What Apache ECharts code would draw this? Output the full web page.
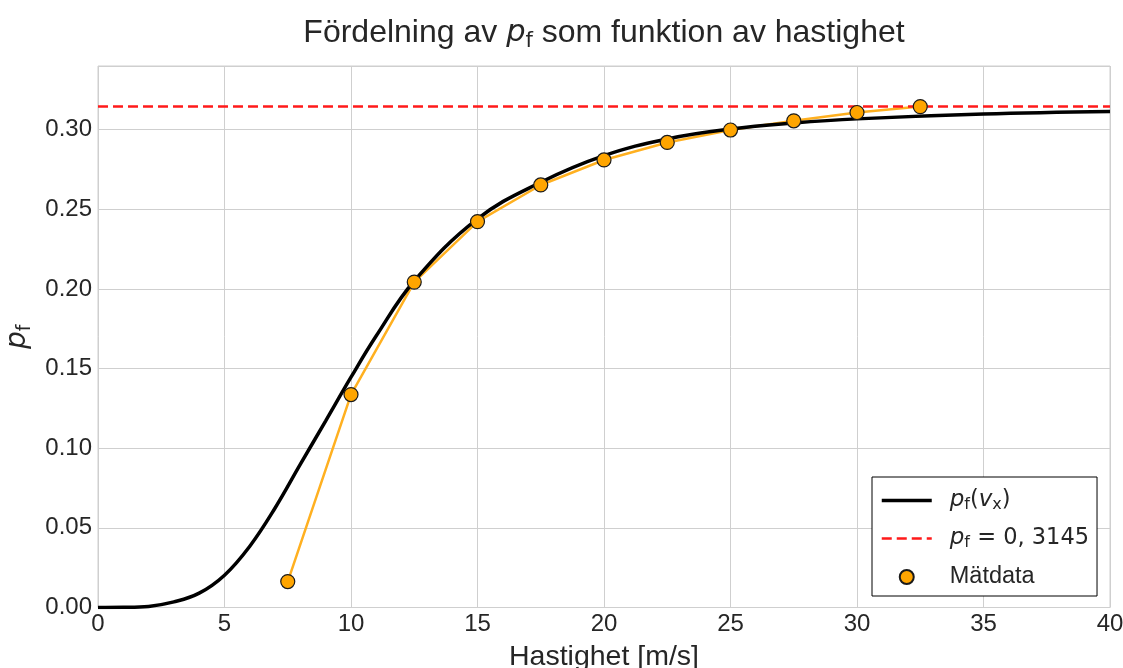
<!DOCTYPE html>
<html>
<head>
<meta charset="utf-8">
<title>Fördelning av pf som funktion av hastighet</title>
<script src="https://cdn.jsdelivr.net/npm/echarts@6/dist/echarts.min.js"></script>
<style>
  html, body { margin: 0; padding: 0; background: #ffffff; }
  #chart { width: 1123px; height: 668px; }
</style>
</head>
<body>
<div id="chart"></div>
<script>
// Measured values: speed [m/s] and fraction p_f
const measSpeed = [7.5, 10, 12.5, 15, 17.5, 20, 22.5, 25, 27.5, 30, 32.5];
const measPf = [0.0163, 0.1337, 0.2043, 0.2423, 0.2653, 0.2810, 0.2920, 0.2998, 0.3056, 0.3108, 0.3145];

// Model curve p_f(v_x), sampled points
const curveSpeed = [0, 1, 2, 3, 4, 5, 6, 7, 8, 9, 10, 11, 12.5, 15, 17.5, 20, 22.5, 25, 27.5, 30, 35, 40];
const curvePf = [0, 0.0001, 0.0007, 0.0035, 0.0090, 0.0203, 0.0385, 0.0625, 0.0900, 0.1172, 0.1446, 0.1706, 0.2050, 0.2440, 0.2670, 0.2837, 0.2942, 0.3004, 0.3042, 0.3068, 0.3098, 0.3114];

// Upper limit of p_f
const pfLimit = 0.3145;
const limitSpeed = [0, 40];

// Axis ticks
const xTicks = { min: 0, max: 40, step: 5 };
const yTicks = { min: 0, max: 0.34, step: 0.05 };

const textColor = '#262626';
const gridColor = '#cfcfcf';
const sansFont = '"Liberation Sans", Arial, sans-serif';
const mathFont = '"DejaVu Sans", sans-serif';

const chart = echarts.init(document.getElementById('chart'), null, { renderer: 'canvas' });

const legendNames = {
  curve: '{sp| }{mi|p}{sub|f}{mr|(}{mi|v}{sub|x}{mr|)}',
  limit: '{sp| }{mi|p}{sub|f}{mr| = 0, 3145}',
  data: '{sp| }{tx|Mätdata}'
};

const option = {
  animation: false,
  backgroundColor: '#ffffff',
  title: {
    text: '{tx|Fördelning av }{mi|p}{sub|f}{tx| som funktion av hastighet}',
    left: 604,
    top: 14,
    textAlign: 'center',
    padding: 0,
    textStyle: {
      fontWeight: 'normal',
      rich: {
        tx: { fontFamily: sansFont, fontWeight: 'normal', fontSize: 32, color: textColor, lineHeight: 38, verticalAlign: 'middle' },
        mi: { fontFamily: mathFont, fontWeight: 'normal', fontStyle: 'italic', fontSize: 30.5, color: textColor, lineHeight: 38, verticalAlign: 'middle' },
        sub: { fontFamily: mathFont, fontWeight: 'normal', fontSize: 21, color: textColor, lineHeight: 22, verticalAlign: 'bottom' }
      }
    }
  },
  grid: {
    left: 98,
    right: 13,
    top: 66,
    bottom: 60.5,
    outerBoundsMode: 'none',
    containLabel: false,
    show: true,
    borderColor: gridColor,
    borderWidth: 1,
    backgroundColor: '#ffffff'
  },
  legend: {
    orient: 'vertical',
    left: 872,
    top: 477,
    data: [
      { name: 'curve', itemStyle: { opacity: 0 }, lineStyle: { width: 3.5 } },
      { name: 'limit', itemStyle: { opacity: 0 }, lineStyle: { width: 2.5 } },
      { name: 'data' }
    ],
    itemWidth: 50,
    itemHeight: 14,
    itemGap: 14.5,
    padding: [12, 8, 7, 8],
    backgroundColor: '#ffffff',
    borderColor: '#000000',
    borderWidth: 1,
    borderRadius: 0,
    formatter: function (name) { return legendNames[name]; },
    textStyle: {
      rich: {
        sp: { width: 13, fontSize: 23, lineHeight: 24, verticalAlign: 'middle' },
        tx: { fontFamily: sansFont, fontSize: 23.5, color: textColor, lineHeight: 24, verticalAlign: 'middle' },
        mi: { fontFamily: mathFont, fontStyle: 'italic', fontSize: 23, color: textColor, lineHeight: 24, verticalAlign: 'middle' },
        mr: { fontFamily: mathFont, fontSize: 22.5, color: textColor, lineHeight: 24, verticalAlign: 'middle' },
        sub: { fontFamily: mathFont, fontSize: 16, color: textColor, lineHeight: 15, verticalAlign: 'bottom' }
      }
    }
  },
  xAxis: {
    type: 'value',
    min: xTicks.min,
    max: xTicks.max,
    interval: xTicks.step,
    name: 'Hastighet [m/s]',
    nameLocation: 'middle',
    nameGap: 35,
    nameTextStyle: { fontFamily: sansFont, fontSize: 28.5, color: textColor },
    axisLine: { show: false },
    axisTick: { show: false },
    axisLabel: { fontFamily: sansFont, fontSize: 24, color: textColor, margin: 5 },
    splitLine: { show: true, lineStyle: { color: gridColor, width: 1 } }
  },
  yAxis: {
    type: 'value',
    min: yTicks.min,
    max: yTicks.max,
    interval: yTicks.step,
    name: '{mi|p}{sub|f}',
    nameLocation: 'middle',
    nameRotate: 90,
    nameGap: 61,
    nameTextStyle: {
      rich: {
        mi: { fontFamily: mathFont, fontStyle: 'italic', fontSize: 28, color: textColor, lineHeight: 34, verticalAlign: 'middle' },
        sub: { fontFamily: mathFont, fontSize: 19, color: textColor, lineHeight: 20, verticalAlign: 'bottom' }
      }
    },
    axisLine: { show: false },
    axisTick: { show: false },
    axisLabel: {
      fontFamily: sansFont, fontSize: 24, color: textColor, margin: 6,
      showMaxLabel: false,
      formatter: function (v) { return v.toFixed(2); }
    },
    splitLine: { show: true, lineStyle: { color: gridColor, width: 1 } }
  },
  series: [
    {
      name: 'measline',
      type: 'line',
      data: measSpeed.map((v, i) => [v, measPf[i]]),
      symbol: 'none',
      lineStyle: { color: '#ffb020', width: 2.5 },
      itemStyle: { color: '#ffb020' },
      z: 2,
      silent: true
    },
    {
      name: 'curve',
      type: 'line',
      data: curveSpeed.map((v, i) => [v, curvePf[i]]),
      smooth: 0.4,
      symbol: 'none',
      lineStyle: { color: '#000000', width: 3.5 },
      itemStyle: { color: '#000000' },
      z: 3
    },
    {
      name: 'limit',
      type: 'line',
      data: limitSpeed.map(v => [v, pfLimit]),
      symbol: 'none',
      lineStyle: { color: '#ff1a1a', width: 2.5, type: [10, 5] },
      itemStyle: { color: '#ff1a1a' },
      z: 4
    },
    {
      name: 'data',
      type: 'scatter',
      data: measSpeed.map((v, i) => [v, measPf[i]]),
      symbol: 'circle',
      symbolSize: 14,
      itemStyle: { color: '#ffa500', borderColor: '#1a1a1a', borderWidth: 1.2, opacity: 1 },
      z: 5
    }
  ]
};

chart.setOption(option);
</script>
</body>
</html>
